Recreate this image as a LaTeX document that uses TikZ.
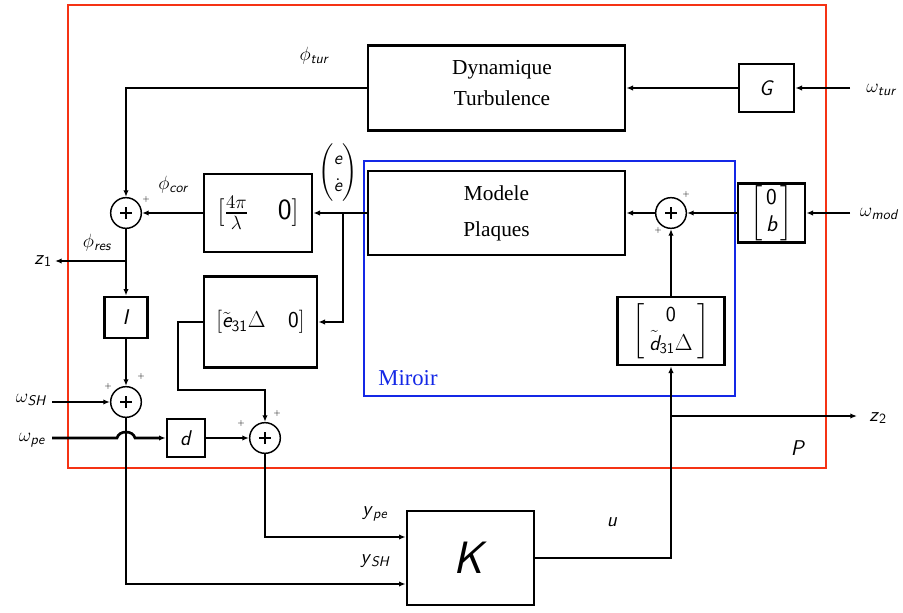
\documentclass[tikz,border=0pt]{standalone}
\usepackage{amsmath}
\usepackage{fontspec}
\newfontfamily\serifbox{Liberation Serif}
\usetikzlibrary{arrows.meta}
\newcommand{\si}[1]{\textsf{\itshape #1}}
\definecolor{pred}{RGB}{245,50,20}
\definecolor{pblue}{RGB}{20,40,230}
\tikzset{
  sz/.style 2 args={minimum width={#1*0.75pt}, minimum height={#2*0.75pt}},
  blk/.style={draw, line width=2pt, inner sep=0pt, anchor=center},
  frm/.style={draw, line width=2pt, inner sep=0pt, anchor=center},
  sumn/.style={draw, circle, line width=1.1pt, inner sep=0pt, minimum size=23pt,
     path picture={
       \draw[line width=1.8pt] ([xshift=-4.5pt]path picture bounding box.center) -- ([xshift=4.5pt]path picture bounding box.center);
       \draw[line width=1.8pt] ([yshift=-4.5pt]path picture bounding box.center) -- ([yshift=4.5pt]path picture bounding box.center);}},
  lab/.style={inner sep=0pt, font=\fontsize{15}{17}\selectfont},
  pl/.style={inner sep=0pt, font=\fontsize{6}{6}\selectfont},
  wire/.style={line width=2pt},
  sertext/.style={font=\serifbox\fontsize{16}{23}\selectfont, align=center},
  matx/.style={font=\fontsize{17}{20}\selectfont}
}
\begin{document}
\begin{tikzpicture}[x=0.75pt,y=-0.75pt,>={Latex[length=5pt,width=4pt]}]
\useasboundingbox (0,0) rectangle (903,613);
% frames
\node[frm, draw=pred, sz={758}{463}] (Pbox) at (447,236.5) {};
\node[frm, draw=pblue, sz={371}{235}] (mir) at (549.5,278.5) {};
% blocks
\node[blk, sz={257}{85}] (dyn) at (496.5,88) {};
\node[sertext] (dyntxt) at (502,83) {Dynamique\\Turbulence};
\node[blk, sz={55}{48}, font=\fontsize{16}{16}\selectfont] (G) at (766.5,88) {\si{G}};
\node[blk, sz={108}{78}, font=\fontsize{22}{24}\selectfont] (cor) at (258,213) {$[\frac{4\pi}{\lambda}\quad \textsf{0}]$};
\node[blk, sz={257}{84}, font=\serifbox\fontsize{16}{27}\selectfont, align=center] (mp) at (496.5,213) {Modele\\Plaques};
\node[sumn] (s2) at (671,213) {};
\node[blk, sz={67}{59}, matx] (bm) at (771.5,213) {$\left[\begin{matrix}\,\textsf{0}\,\\ \,\si{b}\,\end{matrix}\right]$};
\node[sumn] (s1) at (126,213) {};
\node[blk, sz={113}{91}, matx] (e31) at (260.5,322) {$[\tilde{\si{e}}_{\textsf{31}}\Delta\quad \textsf{0}]$};
\node[blk, sz={107}{68}, font=\fontsize{16}{19}\selectfont] (d31) at (671,331) {$\left[\begin{matrix}\quad\textsf{0}\quad\\[1pt] \tilde{\si{d}}_{\textsf{31}}\Delta\end{matrix}\right]$};
\node[blk, sz={43}{41}, font=\fontsize{16}{16}\selectfont] (I) at (126,317.5) {\si{I}};
\node[sumn] (s4) at (126,402) {};
\node[blk, sz={38}{38}, font=\fontsize{16}{16}\selectfont] (d) at (186,438) {\si{d}};
\node[sumn] (s3) at (265,438) {};
\node[blk, sz={127}{94}, font=\fontsize{34}{34}\selectfont] (K) at (470.5,558) {\si{K}};
% free ends
\coordinate (wturin) at (850,88);
\coordinate (wmodin) at (850,213);
\coordinate (wshin) at (52,402);
\coordinate (wpein) at (52,438);
\coordinate (z1end) at (55,261);
\coordinate (z2end) at (857,416);
\coordinate (jA) at (126,261);
\coordinate (jB) at (343,213);
\coordinate (jC) at (671,416);
% labels
\node[lab] (ltur) at (314,56) {$\phi_{\si{tur}}$};
\node[lab] (lcor) at (173,185) {$\phi_{\si{cor}}$};
\node[lab] (lres) at (97,243) {$\phi_{\si{res}}$};
\node[lab] (lz1) at (43,261) {\si{z}$_{\textsf{1}}$};
\node[lab, font=\fontsize{14}{16}\selectfont] (lee) at (338,173) {\renewcommand{\arraystretch}{1.25}$\begin{pmatrix}\si{e}\\ \dot{\si{e}}\end{pmatrix}$};
\node[lab] (lwtur) at (881,90) {$\omega_{\si{tur}}$};
\node[lab] (lwmod) at (879,214) {$\omega_{\si{mod}}$};
\node[lab] (lwsh) at (31,400) {$\omega_{\si{SH}}$};
\node[lab] (lwpe) at (32,440) {$\omega_{\si{pe}}$};
\node[lab] (lz2) at (878,418) {\si{z}$_{\textsf{2}}$};
\node[lab, font=\fontsize{16}{16}\selectfont] (lP) at (798,448) {\si{P}};
\node[inner sep=0pt, text=pblue, font=\serifbox\fontsize{17}{17}\selectfont] (lmir) at (408,378) {Miroir};
\node[lab] (lype) at (375,514) {\si{y}$_{\si{pe}}$};
\node[lab] (lysh) at (375,561) {\si{y}$_{\si{SH}}$};
\node[lab] (lu) at (612,522) {\si{u}};
% plus signs
\node[pl] at (146,200) {+};
\node[pl] at (686,194) {+};
\node[pl] at (658,231) {+};
\node[pl] at (141,376) {+};
\node[pl] at (108,386) {+};
\node[pl] at (241,423) {+};
\node[pl] at (277,413) {+};
% wires
\draw[wire,->] (wturin) -- (G.east);
\draw[wire,->] (G.west) -- (dyn.east);
\draw[wire,->] (dyn.west) -- (126,88) -- (s1.north);
\draw[wire,->] (mp.west) -- (cor.east);
\draw[wire,->] (jB) -- (343,322) -- (e31.east);
\draw[wire,->] (cor.west) -- (s1.east);
\draw[wire,->] (s1.south) -- (I.north);
\draw[wire,->] (jA) -- (z1end);
\draw[wire,->] (e31.west) -- (178,322) -- (178,390) -- (265,390) -- (s3.north);
\draw[wire,->] (I.south) -- (s4.north);
\draw[wire,->] (wshin) -- (s4.west);
\draw[wire,->] (wpein) -- (117,438) .. controls (119,430) and (133,430) .. (135,438) -- (d.west);
\draw[wire,->] (d.east) -- (s3.west);
\draw[wire,->] (s3.south) -- (265,537) -- (K.west |- 0,537);
\draw[wire,->] (s4.south) -- (126,584) -- (K.west |- 0,584);
\draw[wire,->] (K.east) -- (671,558) -- (d31.south);
\draw[wire,->] (jC) -- (z2end);
\draw[wire,->] (d31.north) -- (s2.south);
\draw[wire,->] (bm.west) -- (s2.east);
\draw[wire,->] (wmodin) -- (bm.east);
\draw[wire,->] (s2.west) -- (mp.east);
\end{tikzpicture}
\end{document}
